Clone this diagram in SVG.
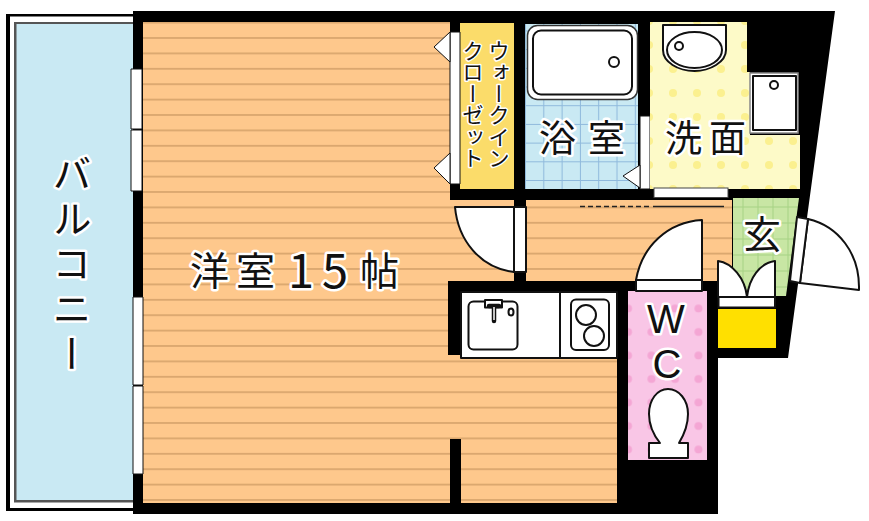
<svg xmlns="http://www.w3.org/2000/svg" width="869" height="521" viewBox="0 0 869 521">
<style>
.f{fill:#fff;stroke:#111;stroke-width:2;stroke-linejoin:round}
.n{fill:none;stroke:#111;stroke-width:2}
.s{stroke-width:1}
.t{font-family:"Noto Sans CJK JP","Noto Sans",sans-serif;fill:#111;stroke:#fff;stroke-width:5;paint-order:stroke;stroke-linejoin:round}
.l{font-family:"Liberation Sans",sans-serif}
.b{fill:#000}
</style>
<defs>
<pattern id="stripes" width="50" height="15.4" patternUnits="userSpaceOnUse" y="23.6"><rect width="50" height="15.4" fill="#fec88c"/><rect y="13.800" width="50" height="1.200" fill="#c9965f"/></pattern>
<pattern id="tile" width="18.3" height="18.7" patternUnits="userSpaceOnUse" x="526" y="87.5"><rect width="18.3" height="18.7" fill="#c9e9f3"/><path d="M17.8 0V18.7M0 18.2H18.3" stroke="#8fb9dc" stroke-width="1" fill="none"/></pattern>
<pattern id="green" width="15" height="16" patternUnits="userSpaceOnUse" x="728.5" y="191.5"><rect width="15" height="16" fill="#c8e6a4"/><path d="M14.5 0V16M0 15.5H15" stroke="#a6d284" stroke-width="1" fill="none"/></pattern>
<pattern id="ydots" width="24" height="24" patternUnits="userSpaceOnUse" x="637" y="9"><rect width="24" height="24" fill="#fdfac8"/><circle cx="12" cy="12" r="4" fill="#fbf08f"/></pattern>
<pattern id="pdots" width="23.5" height="23.5" patternUnits="userSpaceOnUse" x="616" y="367"><rect width="23.5" height="23.5" fill="#f9c6e6"/><circle cx="12" cy="12" r="4" fill="#f4a6d4"/></pattern>
</defs>
<g id="balcony">
<rect x="6" y="14" width="130" height="497" class="b"/>
<rect x="10" y="16.500" width="126" height="491.500" fill="#fff"/>
<rect x="14" y="22" width="122" height="480.500" fill="#555"/>
<rect x="16.500" y="24" width="120" height="476" fill="#c9e9f3"/>
</g>
<g id="walls"><polygon points="133,11 835,11 788,358 718,358 718,514 133,514" class="b"/></g>
<g id="western-room">
<path d="M143 22H450V281H448V355H461V358H617V503H143Z" fill="url(#stripes)"/>
<rect x="450" y="190" width="76" height="10" class="b"/>
<rect x="450" y="200" width="64" height="81" fill="url(#stripes)"/>
<rect x="450" y="439" width="11" height="65" class="b"/>
<rect x="131" y="69" width="11" height="60" class="f s"/>
<rect x="131" y="130" width="11" height="61" class="f s"/>
<rect x="133" y="297" width="10" height="88" class="f s"/>
<rect x="133" y="386" width="10" height="88" class="f s"/>
</g>
<g id="hall">
<rect x="526" y="200" width="206" height="81" fill="url(#stripes)"/>
<path d="M580 206.500H652" fill="none" stroke="#222" stroke-width="1.500" stroke-dasharray="5 3"/>
<path d="M653 206.500H724" fill="none" stroke="#222" stroke-width="1.500"/>
</g>
<g id="closet">
<rect x="460" y="23" width="54" height="166" fill="#fbdc6a"/>
<rect x="450" y="32" width="10" height="152" class="f s"/>
<polygon points="450,32 434,47 450,62" class="f s"/>
<polygon points="450,153 434,168 450,184" class="f s"/>
</g>
<g id="bath">
<rect x="525" y="24" width="113" height="165" fill="url(#tile)"/>
<rect x="527.500" y="25.500" width="110" height="74" rx="10" fill="#fff" stroke="#333" stroke-width="1.500"/>
<rect x="533" y="30.500" width="99" height="64" rx="8" fill="#fff" stroke="#111" stroke-width="2"/>
<circle cx="614" cy="62" r="5" class="n"/>
<rect x="640" y="116" width="10" height="73" class="f s"/>
<polygon points="640,165 623,176 640,188" class="f s"/>
</g>
<g id="washroom">
<polygon points="650,22 747,22 747,72 750,72 750,135 800,135 800,189 650,189" fill="url(#ydots)"/>
<path d="M663 25H726V50C726 62 710 71 694.500 71C678 71 663 62 663 50Z" class="f"/>
<ellipse cx="694.500" cy="50" rx="27.500" ry="18" class="n"/>
<circle cx="679" cy="46" r="4" class="n"/>
<rect x="750" y="73" width="48" height="60" fill="#fff" stroke="#888" stroke-width="1.500"/>
<rect x="753" y="76" width="43" height="54" class="f" stroke-width="1.500"/>
<circle cx="774" cy="85" r="4" class="n"/>
<rect x="654" y="188" width="74" height="9.500" fill="#fff" stroke="#444" stroke-width="1"/>
</g>
<g id="entrance">
<polygon points="733,198 799,198 786,296 733,296" fill="url(#green)"/>
<path d="M733 262V281H716V297H733Z" class="b"/>
<rect x="718" y="309" width="58" height="39" fill="#ffe000"/>
<rect x="718.500" y="297" width="56.500" height="10.500" class="f" stroke-width="1.500"/>
<path d="M718 297V261C732 263 745 278 747 297Z" class="f"/>
<path d="M775 297V261C760 263 749 278 747 297Z" class="f"/>
<path d="M808 219C838 226 860 253 859 290L800 283Z" class="f"/>
<polygon points="797,217 808,219 800,283 790,281" class="f"/>
</g>
<g id="hall-door">
<path d="M455 207H514V272C480 268 458 240 455 207Z" class="f"/>
<rect x="514" y="207" width="12" height="65" class="f"/>
</g>
<g id="kitchen">
<rect x="461" y="292" width="156" height="66" class="f"/>
<path d="M560 292V358" class="n"/>
<rect x="468.500" y="301.500" width="49" height="48" rx="5" class="n"/>
<rect x="485" y="300" width="17" height="7.500" class="f"/>
<path d="M489 306H499M494 307V321" stroke="#111" stroke-width="4.500" stroke-linecap="round" fill="none"/>
<path d="M494 307V320" stroke="#fff" stroke-width="1.500" fill="none"/>
<ellipse cx="511" cy="312" rx="2.500" ry="3.500" class="n"/>
<rect x="571" y="299.500" width="38" height="50.500" rx="5" class="n"/>
<circle cx="586" cy="315" r="10" class="n"/>
<circle cx="594" cy="336" r="10" class="n"/>
</g>
<g id="wc">
<rect x="628" y="291" width="79" height="169" fill="url(#pdots)"/>
<path d="M702 220V280H636C642 246 668 222 702 220Z" class="f"/>
<rect x="636" y="280" width="66" height="11" class="f"/>
<path d="M660 443C652 433 649 424 649 414C649 400 657 389 668 389C679 389 688 400 688 414C688 424 685 433 679 443H688V458H649V443Z" class="f"/>
</g>
<g id="labels">
<text class="t" y="285" font-size="39"><tspan x="190">洋</tspan><tspan x="236">室</tspan><tspan x="288" y="288" font-size="47">1</tspan><tspan x="322" y="288" font-size="47">5</tspan><tspan x="360" y="285">帖</tspan></text>
<text class="t" x="72" y="154" font-size="39" letter-spacing="6" writing-mode="vertical-rl">バルコニー</text>
<text class="t" x="499" y="40" font-size="21.500" writing-mode="vertical-rl" style="stroke-width:3">ウォークイン</text>
<text class="t" x="473" y="40" font-size="21.500" writing-mode="vertical-rl" style="stroke-width:3">クローゼット</text>
<text class="t" x="539" y="152" font-size="37" letter-spacing="12">浴室</text>
<text class="t" x="665" y="152" font-size="37" letter-spacing="7">洗面</text>
<text class="t" x="743" y="248" font-size="38">玄</text>
<text class="t l" x="666" y="333" font-size="40" text-anchor="middle">W</text>
<text class="t l" x="667" y="378" font-size="40" text-anchor="middle">C</text>
</g>
</svg>
